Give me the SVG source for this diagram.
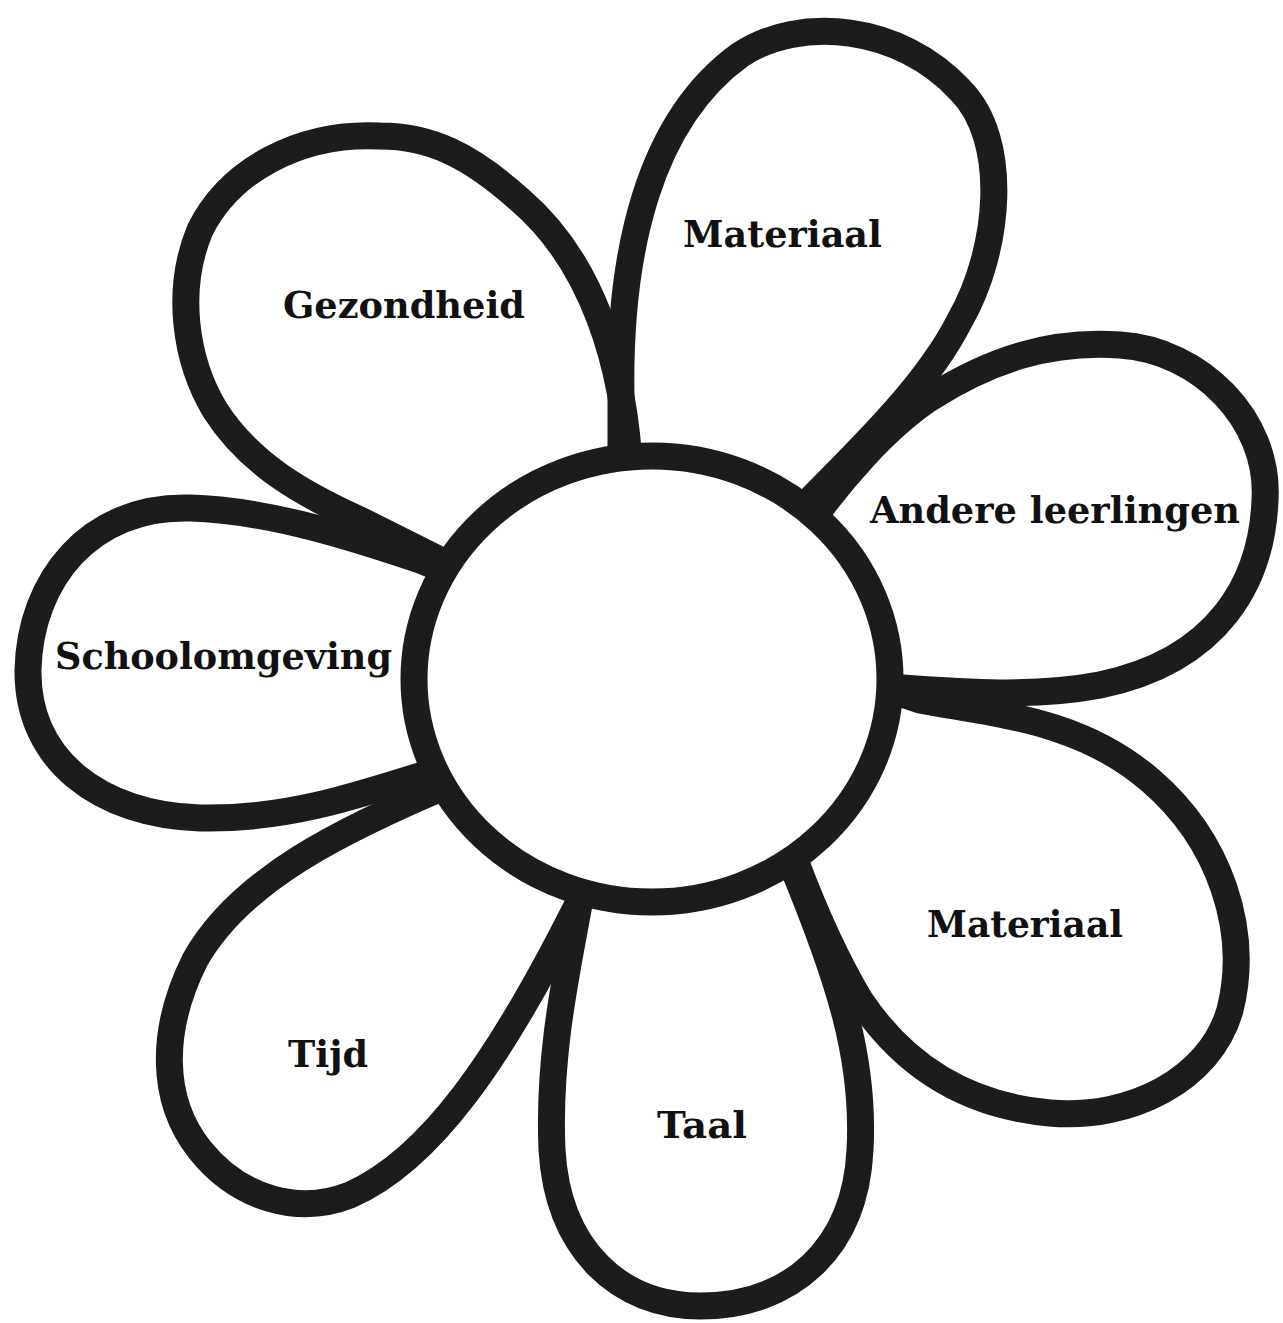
<svg xmlns="http://www.w3.org/2000/svg" width="1283" height="1323" viewBox="0 0 1283 1323">
<style>
.petal{fill:none;stroke:#1d1b1b;stroke-width:27;stroke-linejoin:round;stroke-linecap:round}
.core{fill:#ffffff;stroke:#1d1b1b;stroke-width:27}
.lbl{font-family:"DejaVu Serif","Liberation Serif",serif;font-weight:bold;font-size:37px;fill:#111111}
</style>
<rect width="1283" height="1323" fill="#ffffff"/>
<g id="petals">
<g id="petal-materiaal-top"><path class="petal" d="M 621 500 L 621 400 C 618 250, 650 120, 740 55 C 800 15, 900 25, 960 90 C 1010 140, 1000 250, 960 320 C 930 380, 870 440, 810 500"/></g>
<g id="petal-gezondheid"><path class="petal" d="M 630 480 C 625 360, 590 260, 520 200 C 470 155, 430 136, 380 136 C 300 132, 230 170, 200 230 C 175 290, 185 360, 215 410 C 250 465, 305 495, 360 520 L 470 575"/></g>
<g id="petal-andere"><path class="petal" d="M 805 530 C 840 480, 885 428, 930 398 C 990 360, 1050 340, 1120 345 C 1200 350, 1270 420, 1265 500 C 1262 580, 1220 660, 1100 685 C 1020 700, 940 690, 860 685"/></g>
<g id="petal-school"><path class="petal" d="M 470 580 L 420 560 C 360 540, 270 510, 190 508 C 90 505, 30 580, 28 670 C 27 760, 100 815, 200 818 C 290 820, 360 795, 470 760"/></g>
<g id="petal-tijd"><path class="petal" d="M 460 780 C 340 830, 240 880, 195 960 C 160 1030, 160 1100, 200 1150 C 240 1200, 300 1215, 350 1195 C 430 1160, 500 1060, 580 900"/></g>
<g id="petal-taal"><path class="petal" d="M 585 870 L 578 910 C 565 980, 548 1060, 552 1150 C 558 1250, 620 1306, 700 1306 C 790 1306, 855 1250, 860 1150 C 865 1060, 840 980, 790 860"/></g>
<g id="petal-materiaal-bottom"><path class="petal" d="M 860 680 L 920 700 C 1000 715, 1080 720, 1150 780 C 1220 840, 1250 930, 1230 1010 C 1210 1080, 1130 1120, 1050 1113 C 960 1105, 900 1060, 860 1000 C 830 950, 810 900, 795 860"/></g>
</g>
<g id="center"><ellipse class="core" cx="652" cy="679" rx="238" ry="223"/></g>
<g id="labels">
<text class="lbl" x="683" y="247" textLength="199" lengthAdjust="spacingAndGlyphs">Materiaal</text>
<text class="lbl" x="283" y="318" textLength="242" lengthAdjust="spacingAndGlyphs">Gezondheid</text>
<text class="lbl" x="870" y="523" textLength="370" lengthAdjust="spacingAndGlyphs">Andere leerlingen</text>
<text class="lbl" x="55" y="669" textLength="337" lengthAdjust="spacingAndGlyphs">Schoolomgeving</text>
<text class="lbl" x="927" y="937" textLength="196" lengthAdjust="spacingAndGlyphs">Materiaal</text>
<text class="lbl" x="288" y="1067" textLength="80" lengthAdjust="spacingAndGlyphs">Tijd</text>
<text class="lbl" x="657" y="1138" textLength="90" lengthAdjust="spacingAndGlyphs">Taal</text>
</g>
</svg>
